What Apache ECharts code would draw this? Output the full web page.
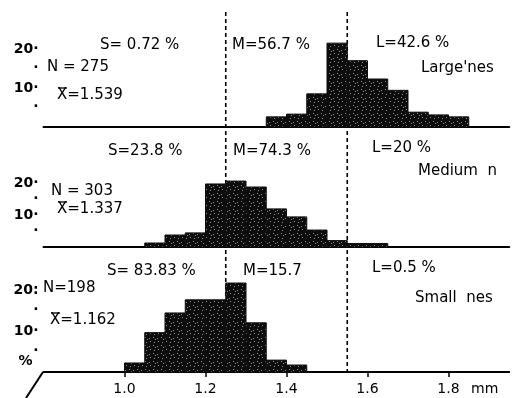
<!DOCTYPE html>
<html>
<head>
<meta charset="utf-8">
<script src="https://cdn.jsdelivr.net/npm/echarts@6/dist/echarts.min.js"></script>
<style>
html,body{margin:0;padding:0;background:#fff;}
#c{width:526px;height:398px;}
</style>
</head>
<body>
<div id="c"></div>
<script>
// ---- data (percent of nests per 0.05 mm class) ----
const binWidth = 0.05;
const largeBinStarts  = [1.35, 1.40, 1.45, 1.50, 1.55, 1.60, 1.65, 1.70, 1.75, 1.80];
const largeValues     = [2.6, 3.3, 8.5, 21.5, 17.0, 12.3, 9.4, 3.8, 3.1, 2.6];
const mediumBinStarts = [1.05, 1.10, 1.15, 1.20, 1.25, 1.30, 1.35, 1.40, 1.45, 1.50, 1.55, 1.60];
const mediumValues    = [1.25, 3.75, 4.4, 19.7, 20.6, 18.75, 11.9, 9.4, 5.3, 2.0, 1.1, 1.1];
const smallBinStarts  = [1.00, 1.05, 1.10, 1.15, 1.20, 1.25, 1.30, 1.35, 1.40];
const smallValues     = [2.2, 9.6, 14.4, 17.6, 17.6, 21.7, 12.0, 2.9, 1.7];
const classBounds = [1.25, 1.55];
const xTicks = [1.0, 1.2, 1.4, 1.6, 1.8];
const yTickLabels = {20: '20·', 15: '·', 10: '10·', 5: '·'};

const annotations = [
  ['S= 0.72 %', 'M=56.7 %', 'L=42.6 %', "Large'nes", 'N = 275'],
  ['S=23.8 %', 'M=74.3 %', 'L=20 %', 'Medium  n', 'N = 303'],
  ['S= 83.83 %', 'M=15.7', 'L=0.5 %', 'Small  nes', 'N=198']
];
const meanLabels = ['X=1.539', 'X=1.337', 'X=1.162'];

// ---- layout ----
const X_MIN = 0.8, X_MAX = 1.95;
const GL = 43.5, GW = 465.75;
const panels = [
  {base: 127, pxPer: 3.9},
  {base: 247, pxPer: 3.2},
  {base: 372, pxPer: 4.1}
];
const Y_MAX = 25;
const FONT = '"DejaVu Sans", sans-serif';
const TXT = '15px ' + FONT;

function speckle() {
  const c = document.createElement('canvas');
  c.width = 8; c.height = 8;
  const g = c.getContext('2d');
  g.fillStyle = '#0d0d0d'; g.fillRect(0, 0, 8, 8);
  g.fillStyle = 'rgba(255,255,255,0.55)';
  [[1,1],[5,2],[2,6],[6,5],[3,3]].forEach(p => g.fillRect(p[0], p[1], 1, 1));
  return c;
}
const pattern = {image: speckle(), repeat: 'repeat'};

const grids = [], xAxes = [], yAxes = [], series = [];
panels.forEach((p, i) => {
  const h = Y_MAX * p.pxPer;
  grids.push({left: GL, width: GW, top: p.base - h, height: h});
  const bottom = i === 2;
  xAxes.push({
    type: 'value', gridIndex: i, min: X_MIN, max: X_MAX, interval: 0.2,
    axisLine: {show: true, lineStyle: {color: '#000', width: 2}},
    axisTick: {show: bottom, length: 5, lineStyle: {color: '#000', width: 1.5},
      customValues: xTicks},
    axisLabel: {show: bottom, color: '#000', fontFamily: FONT, fontSize: 14, margin: 10,
      customValues: xTicks,
      formatter: v => (Math.abs(v - 0.8) < 1e-6 ? '' : v.toFixed(1))},
    splitLine: {show: false}
  });
  yAxes.push({
    type: 'value', gridIndex: i, min: 0, max: Y_MAX, interval: 5,
    axisLine: {show: false}, axisTick: {show: false}, splitLine: {show: false},
    axisLabel: {
      color: '#000', fontFamily: FONT, fontSize: 14, fontWeight: 'bold', margin: 5,
      formatter: v => {
        if (v === 0) return bottom ? '{p|%}' : '';
        if (bottom && v === 20) return '20:';
        return yTickLabels[v] || '';
      },
      rich: {p: {fontFamily: FONT, fontSize: 14, fontWeight: 'bold', color: '#000', padding: [0, 6, 22, 0]}}
    }
  });
});

function histData(starts, vals) {
  return starts.map((s, k) => [s, s + binWidth, vals[k]]);
}
const histSets = [histData(largeBinStarts, largeValues), histData(mediumBinStarts, mediumValues), histData(smallBinStarts, smallValues)];
histSets.forEach((d, i) => {
  series.push({
    type: 'custom', xAxisIndex: i, yAxisIndex: i, z: 3, data: d,
    renderItem: (params, api) => {
      const a = api.coord([api.value(0), api.value(2)]);
      const b = api.coord([api.value(1), 0]);
      return {type: 'rect', shape: {x: a[0], y: a[1], width: b[0] - a[0], height: b[1] - a[1]},
        style: {fill: pattern, stroke: '#0d0d0d', lineWidth: 1}};
    }
  });
});

// overlay grid for the class boundaries spanning all panels
grids.push({left: GL, width: GW, top: 12, height: 360});
xAxes.push({type: 'value', gridIndex: 3, min: X_MIN, max: X_MAX, show: false});
yAxes.push({type: 'value', gridIndex: 3, min: 0, max: 1, show: false});
series.push({
  type: 'custom', xAxisIndex: 3, yAxisIndex: 3, z: 1,
  data: classBounds.map(v => [v]),
  renderItem: (params, api) => {
    const t = api.coord([api.value(0), 1]);
    const b = api.coord([api.value(0), 0]);
    return {type: 'line', shape: {x1: t[0], y1: t[1], x2: b[0], y2: b[1]},
      style: {stroke: '#000', lineWidth: 1.6, lineDash: [4, 3]}};
  }
});

// annotation positions (per panel: S, M, L, name, N)
const annPos = [
  [[100, 47], [232, 47], [376, 45], [421, 70], [47, 69]],
  [[108, 153], [233, 153], [372, 150], [418, 173], [51, 193]],
  [[107, 273], [243, 273], [372, 270], [415, 300], [43, 290]]
];
const meanPos = [[57, 97], [57, 211], [50, 322]];
const graphics = [];
annotations.forEach((row, i) => row.forEach((txt, j) => {
  graphics.push({type: 'text', left: annPos[i][j][0], top: annPos[i][j][1] - 9,
    style: {text: txt, fill: '#000', font: TXT}});
}));
meanLabels.forEach((txt, i) => {
  const [x, y] = meanPos[i];
  graphics.push({type: 'text', left: x, top: y - 9, style: {text: txt, fill: '#000', font: TXT}});
  graphics.push({type: 'line', shape: {x1: x + 1, y1: y - 9, x2: x + 10, y2: y - 9}, style: {stroke: '#000', lineWidth: 1.3}});
});
graphics.push({type: 'text', left: 471, top: 382, style: {text: 'mm', fill: '#000', font: '14px ' + FONT}});
graphics.push({type: 'polyline', shape: {points: [[43, 372], [26, 398]]}, style: {stroke: '#000', lineWidth: 2}});

const chart = echarts.init(document.getElementById('c'), null, {renderer: 'canvas'});
chart.setOption({
  animation: false,
  backgroundColor: '#fff',
  grid: grids, xAxis: xAxes, yAxis: yAxes, series: series,
  graphic: graphics
});
</script>
</body>
</html>
